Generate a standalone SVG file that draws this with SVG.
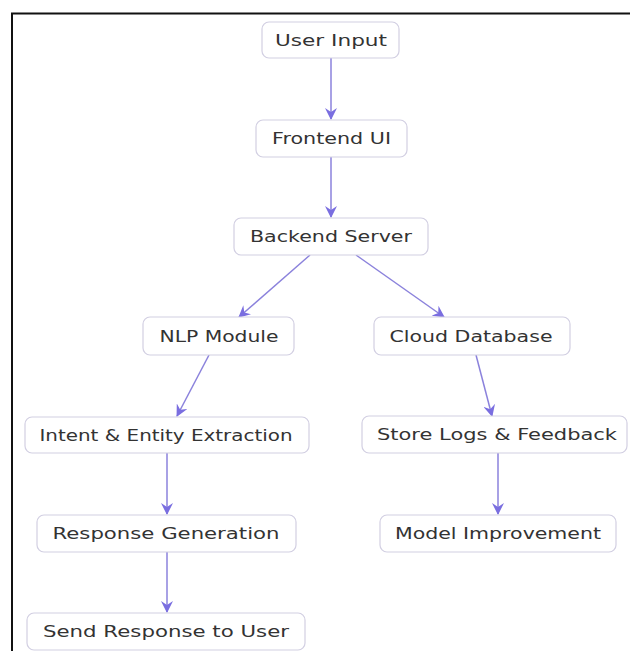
<svg xmlns="http://www.w3.org/2000/svg" width="630" height="651" viewBox="0 0 630 651">
  <style>
    .box { fill: #ffffff; stroke: #d2cfe2; stroke-width: 1.2; }
    .lbl { font-family: "DejaVu Sans", Verdana, sans-serif; font-size: 15px; fill: #333333; text-anchor: middle; }
    .edge { fill: none; stroke: #8b82dc; stroke-width: 1.5; marker-end: url(#arrow); }
  </style>
  <defs>
    <marker id="arrow" viewBox="0 0 12 12" refX="11" refY="6" markerWidth="12" markerHeight="12" markerUnits="userSpaceOnUse" orient="auto">
      <path d="M0,0 L12,6 L0,12 L4,6 z" fill="#7a6ee0"/>
    </marker>
  </defs>

  <rect width="630" height="651" fill="#ffffff"/>
  <!-- outer frame, open to the right and bottom -->
  <path d="M12,651 V13.5 H630" fill="none" stroke="#111111" stroke-width="2"/>

  <g id="connectors">
    <path class="edge" d="M331,58 V119"/>
    <path class="edge" d="M331,157 V217"/>
    <path class="edge" d="M310,255 L239,317"/>
    <path class="edge" d="M356,255 L444,317"/>
    <path class="edge" d="M209,355 L177,416"/>
    <path class="edge" d="M476,355 L492,416"/>
    <path class="edge" d="M167,453 V514"/>
    <path class="edge" d="M498,453 V514"/>
    <path class="edge" d="M167,552 V612"/>
  </g>

  <g id="user-input">
    <rect class="box" x="262" y="22" width="137" height="36" rx="7"/>
    <text class="lbl" x="331" y="45.5" textLength="112" lengthAdjust="spacingAndGlyphs">User Input</text>
  </g>
  <g id="frontend-ui">
    <rect class="box" x="256" y="120" width="151" height="37" rx="7"/>
    <text class="lbl" x="331.5" y="144" textLength="119" lengthAdjust="spacingAndGlyphs">Frontend UI</text>
  </g>
  <g id="backend-server">
    <rect class="box" x="234" y="218" width="194" height="37" rx="7"/>
    <text class="lbl" x="331" y="242" textLength="162" lengthAdjust="spacingAndGlyphs">Backend Server</text>
  </g>
  <g id="nlp-module">
    <rect class="box" x="143" y="317" width="151" height="38" rx="7"/>
    <text class="lbl" x="219" y="341.5" textLength="119" lengthAdjust="spacingAndGlyphs">NLP Module</text>
  </g>
  <g id="cloud-database">
    <rect class="box" x="374" y="317" width="196" height="38" rx="7"/>
    <text class="lbl" x="471" y="341.5" textLength="163" lengthAdjust="spacingAndGlyphs">Cloud Database</text>
  </g>
  <g id="intent-entity">
    <rect class="box" x="25" y="417" width="284" height="36" rx="7"/>
    <text class="lbl" x="166" y="440.5" textLength="253" lengthAdjust="spacingAndGlyphs">Intent &amp; Entity Extraction</text>
  </g>
  <g id="store-logs">
    <rect class="box" x="362" y="416" width="265" height="37" rx="7"/>
    <text class="lbl" x="497" y="440" textLength="240" lengthAdjust="spacingAndGlyphs">Store Logs &amp; Feedback</text>
  </g>
  <g id="response-generation">
    <rect class="box" x="37" y="515" width="259" height="37" rx="7"/>
    <text class="lbl" x="166" y="539" textLength="227" lengthAdjust="spacingAndGlyphs">Response Generation</text>
  </g>
  <g id="model-improvement">
    <rect class="box" x="380" y="515" width="236" height="37" rx="7"/>
    <text class="lbl" x="498" y="539" textLength="206" lengthAdjust="spacingAndGlyphs">Model Improvement</text>
  </g>
  <g id="send-response">
    <rect class="box" x="27" y="613" width="278" height="37" rx="7"/>
    <text class="lbl" x="166" y="637" textLength="246" lengthAdjust="spacingAndGlyphs">Send Response to User</text>
  </g>
</svg>
